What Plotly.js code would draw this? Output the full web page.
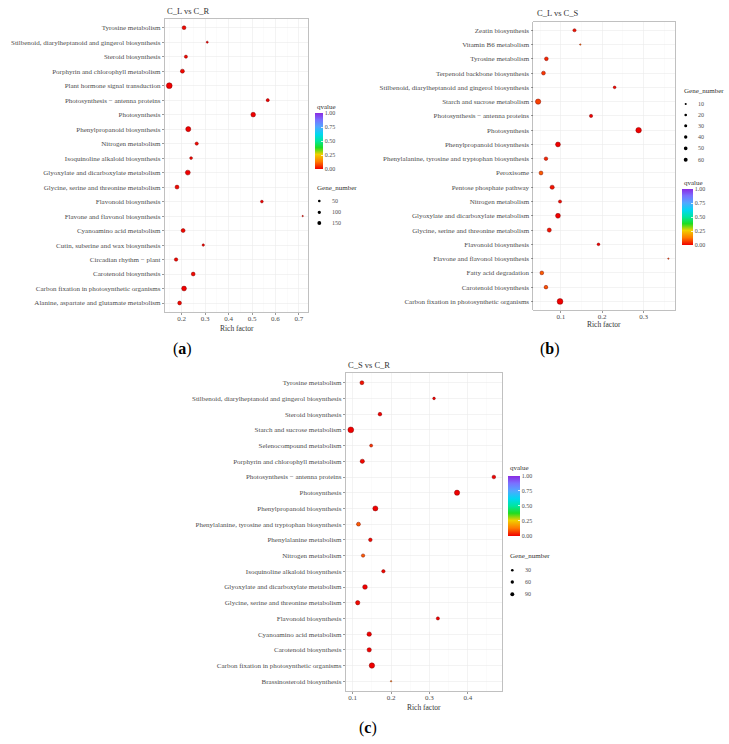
<!DOCTYPE html>
<html>
<head>
<meta charset="utf-8">
<script src="https://cdn.plot.ly/plotly-3.0.1.min.js"></script>
<style>html,body{margin:0;padding:0;background:#fff;}#chart{width:729px;height:744px;}</style>
</head>
<body>
<div id="chart"></div>
<script>
// ---------- DATA (categories listed top to bottom as drawn) ----------
const titleA = "C_L vs C_R";
const catsA = [
  "Tyrosine metabolism",
  "Stilbenoid, diarylheptanoid and gingerol biosynthesis",
  "Steroid biosynthesis",
  "Porphyrin and chlorophyll metabolism",
  "Plant hormone signal transduction",
  "Photosynthesis \u2212 antenna proteins",
  "Photosynthesis",
  "Phenylpropanoid biosynthesis",
  "Nitrogen metabolism",
  "Isoquinoline alkaloid biosynthesis",
  "Glyoxylate and dicarboxylate metabolism",
  "Glycine, serine and threonine metabolism",
  "Flavonoid biosynthesis",
  "Flavone and flavonol biosynthesis",
  "Cyanoamino acid metabolism",
  "Cutin, suberine and wax biosynthesis",
  "Circadian rhythm \u2212 plant",
  "Carotenoid biosynthesis",
  "Carbon fixation in photosynthetic organisms",
  "Alanine, aspartate and glutamate metabolism"
];
const richA = [0.210, 0.309, 0.218, 0.203, 0.147, 0.567, 0.505, 0.228, 0.264, 0.240,
               0.226, 0.180, 0.542, 0.716, 0.206, 0.292, 0.176, 0.249, 0.210, 0.191];
const geneA = [55, 8, 30, 65, 170, 28, 95, 120, 35, 22, 110, 60, 20, 4, 60, 12, 40, 55, 105, 55];
const qA    = [0.01, 0.0, 0.01, 0.01, 0.0, 0.0, 0.0, 0.0, 0.01, 0.01,
               0.0, 0.01, 0.0, 0.02, 0.01, 0.01, 0.01, 0.01, 0.0, 0.01];
const geneLegendA = [50, 100, 150];

const titleB = "C_L vs C_S";
const catsB = [
  "Zeatin biosynthesis",
  "Vitamin B6 metabolism",
  "Tyrosine metabolism",
  "Terpenoid backbone biosynthesis",
  "Stilbenoid, diarylheptanoid and gingerol biosynthesis",
  "Starch and sucrose metabolism",
  "Photosynthesis \u2212 antenna proteins",
  "Photosynthesis",
  "Phenylpropanoid biosynthesis",
  "Phenylalanine, tyrosine and tryptophan biosynthesis",
  "Peroxisome",
  "Pentose phosphate pathway",
  "Nitrogen metabolism",
  "Glyoxylate and dicarboxylate metabolism",
  "Glycine, serine and threonine metabolism",
  "Flavonoid biosynthesis",
  "Flavone and flavonol biosynthesis",
  "Fatty acid degradation",
  "Carotenoid biosynthesis",
  "Carbon fixation in photosynthetic organisms"
];
const richB = [0.133, 0.147, 0.065, 0.058, 0.230, 0.045, 0.173, 0.288, 0.093, 0.064,
               0.052, 0.079, 0.098, 0.093, 0.072, 0.191, 0.360, 0.054, 0.064, 0.098];
const geneB = [12, 2, 20, 22, 8, 52, 13, 58, 42, 18, 22, 28, 12, 42, 26, 8, 2, 20, 19, 65];
const qB    = [0.02, 0.15, 0.04, 0.06, 0.01, 0.07, 0.0, 0.0, 0.0, 0.04,
               0.10, 0.02, 0.01, 0.0, 0.02, 0.0, 0.10, 0.10, 0.09, 0.0];
const geneLegendB = [10, 20, 30, 40, 50, 60];

const titleC = "C_S vs C_R";
const catsC = [
  "Tyrosine metabolism",
  "Stilbenoid, diarylheptanoid and gingerol biosynthesis",
  "Steroid biosynthesis",
  "Starch and sucrose metabolism",
  "Selenocompound metabolism",
  "Porphyrin and chlorophyll metabolism",
  "Photosynthesis \u2212 antenna proteins",
  "Photosynthesis",
  "Phenylpropanoid biosynthesis",
  "Phenylalanine, tyrosine and tryptophan biosynthesis",
  "Phenylalanine metabolism",
  "Nitrogen metabolism",
  "Isoquinoline alkaloid biosynthesis",
  "Glyoxylate and dicarboxylate metabolism",
  "Glycine, serine and threonine metabolism",
  "Flavonoid biosynthesis",
  "Cyanoamino acid metabolism",
  "Carotenoid biosynthesis",
  "Carbon fixation in photosynthetic organisms",
  "Brassinosteroid biosynthesis"
];
const richC = [0.124, 0.312, 0.171, 0.095, 0.148, 0.125, 0.468, 0.372, 0.159, 0.115,
               0.146, 0.127, 0.180, 0.132, 0.113, 0.322, 0.143, 0.143, 0.150, 0.200];
const geneC = [35, 10, 28, 100, 15, 44, 28, 75, 70, 34, 27, 22, 22, 58, 46, 18, 50, 46, 82, 2];
const qC    = [0.02, 0.0, 0.0, 0.0, 0.06, 0.01, 0.0, 0.0, 0.0, 0.10,
               0.01, 0.10, 0.01, 0.0, 0.01, 0.0, 0.0, 0.0, 0.0, 0.20];
const geneLegendC = [30, 60, 90];

const qTicks = [0, 0.25, 0.5, 0.75, 1];

// ---------- helpers ----------
const W = 729, H = 744;
const PX = p => p / W;
const PY = p => 1 - p / H;
const serif = "Liberation Serif, Times New Roman, serif";
const txtCol = "#4d4d4d";

function sizeFn(arr) {
  const mn = Math.min(...arr), mx = Math.max(...arr);
  return g => 1.4 + 4.4 * Math.sqrt(Math.max(0, (g - mn)) / (mx - mn));
}

const rainbow = [
  [0, "#F00000"], [0.13, "#FF7A00"], [0.26, "#F0D000"], [0.38, "#20DD20"],
  [0.5, "#00E6A0"], [0.62, "#00D8F0"], [0.75, "#50A8FF"], [0.88, "#7A70FF"], [1, "#8A2BE2"]
];

function mkTrace(cats, rich, gene, q, xa, ya, ca) {
  const f = sizeFn(gene);
  return {
    type: "scatter", mode: "markers",
    x: rich, y: cats, xaxis: xa, yaxis: ya,
    marker: {
      size: gene.map(f), color: q, coloraxis: ca, opacity: 1,
      line: {width: 0.6, color: "rgba(120,0,0,0.75)"}
    },
    hoverinfo: "x+y"
  };
}

function mkX(domPx, range, anchor) {
  return {
    domain: [PX(domPx[0]), PX(domPx[1])], anchor: anchor, range: range,
    tick0: 0, dtick: 0.1, tickformat: ".1f",
    ticks: "outside", ticklen: 2, tickwidth: 0.6, tickcolor: "#555",
    ticklabelstandoff: -2,
    tickfont: {family: serif, size: 7, color: txtCol},
    showgrid: true, gridcolor: "#EBEBEB", gridwidth: 0.6,
    minor: {tick0: 0, dtick: 0.05, showgrid: true, gridcolor: "#F6F6F6", gridwidth: 0.4},
    showline: true, mirror: true, linecolor: "#B0B0B0", linewidth: 0.8,
    zeroline: false, fixedrange: true
  };
}
function mkY(domPx, cats, anchor) {
  return {
    domain: [PY(domPx[1]), PY(domPx[0])], anchor: anchor, type: "category",
    categoryorder: "array", categoryarray: cats.slice().reverse(),
    range: [-0.6, cats.length - 0.4],
    ticks: "outside", ticklen: 2, tickwidth: 0.6, tickcolor: "#555",
    tickfont: {family: serif, size: 7, color: txtCol},
    showgrid: true, gridcolor: "#EBEBEB", gridwidth: 0.6,
    showline: true, mirror: true, linecolor: "#B0B0B0", linewidth: 0.8,
    zeroline: false, fixedrange: true, automargin: false
  };
}
function mkCA(xPx, topPx, lenPx, thick) {
  return {
    cmin: 0, cmax: 1, colorscale: rainbow,
    colorbar: {
      x: PX(xPx), xanchor: "left", xpad: 0, xref: "paper",
      y: PY(topPx), yanchor: "top", ypad: 0, yref: "paper",
      len: lenPx, lenmode: "pixels", thickness: thick, thicknessmode: "pixels",
      outlinewidth: 0, tickvals: qTicks, ticktext: qTicks.map(v => v.toFixed(2)),
      ticks: "inside", ticklen: 2, tickwidth: 0.8, tickcolor: "#ffffff",
      tickfont: {family: serif, size: 6, color: txtCol},
      title: {text: ""}
    }
  };
}

const annotations = [];
const shapes = [];
function txt(text, xPx, yPx, size, anchor, extra) {
  annotations.push(Object.assign({
    text: text, xref: "paper", yref: "paper", x: PX(xPx), y: PY(yPx),
    xanchor: anchor || "left", yanchor: "middle", showarrow: false,
    font: {family: serif, size: size, color: "#333"}
  }, extra || {}));
}
function sizeLegend(titleX, titleY, dotX, labelX, ys, vals, gene) {
  txt("Gene_number", titleX, titleY, 7);
  const f = sizeFn(gene);
  vals.forEach((v, i) => {
    const d = 0.7 * f(Math.min(v, Math.max(...gene)));
    shapes.push({type: "circle", xref: "paper", yref: "paper",
      x0: PX(dotX - d / 2), x1: PX(dotX + d / 2), y0: PY(ys[i] + d / 2), y1: PY(ys[i] - d / 2),
      fillcolor: "#000", line: {width: 0}});
    txt(String(v), labelX, ys[i], 6, "left", {font: {family: serif, size: 6, color: txtCol}});
  });
}

// ---------- titles / labels ----------
txt(titleA, 164.7, 11, 8.5);
txt(titleB, 535, 13.3, 8.5);
txt(titleC, 345.7, 365, 8.5);
txt("Rich factor", 236.5, 328.5, 7.5, "center");
txt("Rich factor", 604, 325, 7.5, "center");
txt("Rich factor", 424, 707.5, 7.5, "center");
txt("(<b>a</b>)", 182, 348.5, 16, "center", {font: {family: serif, size: 16, color: "#000"}});
txt("(<b>b</b>)", 550, 348.5, 16, "center", {font: {family: serif, size: 16, color: "#000"}});
txt("(<b>c</b>)", 368, 728, 16, "center", {font: {family: serif, size: 16, color: "#000"}});
txt("qvalue", 315, 106.7, 7);
txt("qvalue", 681.7, 183.3, 7);
txt("qvalue", 507.7, 468.3, 7);

sizeLegend(315, 188.3, 319.3, 330, [201, 212.3, 223], geneLegendA, geneA);
sizeLegend(681.7, 91, 685.7, 696, [104, 115, 125.7, 137, 148.3, 159.7], geneLegendB, geneB);
sizeLegend(507.7, 556, 512.3, 523.3, [570.3, 582, 594.3], geneLegendC, geneC);

const data = [
  mkTrace(catsA, richA, geneA, qA, "x", "y", "coloraxis"),
  mkTrace(catsB, richB, geneB, qB, "x2", "y2", "coloraxis2"),
  mkTrace(catsC, richC, geneC, qC, "x3", "y3", "coloraxis3")
];

const layout = {
  width: W, height: H, margin: {l: 0, r: 0, t: 0, b: 0},
  paper_bgcolor: "#fff", plot_bgcolor: "#fff",
  font: {family: serif, color: "#333"},
  showlegend: false,
  xaxis: mkX([164.7, 308.3], [0.1275, 0.74], "y"),
  yaxis: mkY([19, 311.7], catsA, "x"),
  xaxis2: mkX([533.3, 675], [0.0334, 0.376], "y2"),
  yaxis2: mkY([21.7, 310], catsB, "x2"),
  xaxis3: mkX([345.7, 502.3], [0.0817, 0.49], "y3"),
  yaxis3: mkY([373.3, 690.7], catsC, "x3"),
  coloraxis: mkCA(315, 113.3, 56, 8),
  coloraxis2: mkCA(681.7, 189.3, 56, 11),
  coloraxis3: mkCA(507.7, 475.7, 60, 11.5),
  annotations: annotations,
  shapes: shapes
};

Plotly.newPlot("chart", data, layout, {displayModeBar: false, staticPlot: true});
</script>
</body>
</html>
